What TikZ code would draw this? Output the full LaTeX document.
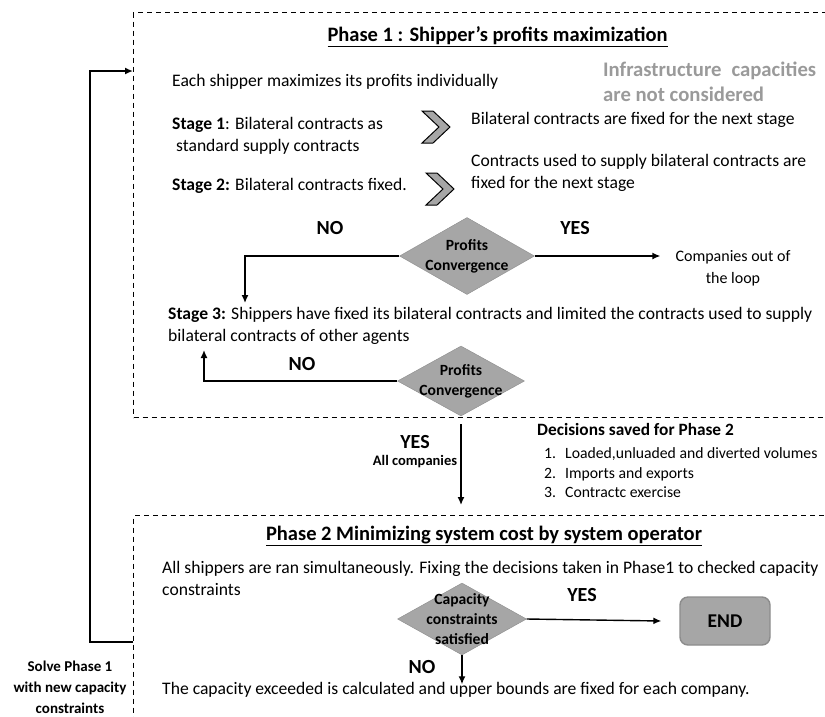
\documentclass[tikz,border=0pt]{standalone}
\usepackage{fontspec}
\setmainfont{Carlito}
\usepackage{tikz}
\usetikzlibrary{arrows.meta,positioning,calc,shapes.geometric}
\definecolor{ssGray}{HTML}{A6A6A6}
\definecolor{ssEdge}{HTML}{8C8C8C}
\definecolor{ssNote}{HTML}{9A9A9A}
\tikzset{
  phase frame/.style={draw,dash pattern=on 5pt off 4pt,line width=1pt,anchor=north west,
    minimum width=720pt,inner sep=0pt},
  body text/.style={anchor=west,align=left,inner sep=0pt,font=\fontsize{17.6}{22}\selectfont},
  phase title/.style={inner sep=0pt,font=\bfseries\fontsize{20.5}{24}\selectfont},
  flag/.style={inner sep=0pt,font=\bfseries\fontsize{20}{22}\selectfont},
  decision/.style={diamond,draw=ssEdge,fill=ssGray,inner sep=0pt},
  decision text/.style={align=center,inner sep=0pt,font=\bfseries\fontsize{15.6}{20}\selectfont},
  chevron/.style={draw,fill=ssGray,line width=1pt,line join=miter},
  flow arrow/.style={-{Latex[length=8pt,width=7pt]},line width=1.4pt},
  feedback/.style={-{Latex[length=8pt,width=7pt]},line width=2.4pt},
  pics/stage chevron/.style={code={
    \draw[chevron] (-15,-16) -- (-4,-16) -- (13,0) -- (-4,16) -- (-15,16) -- (2,0) -- cycle;}}
}

\begin{document}
\begin{tikzpicture}[x=1pt,y=-1pt]
\clip (0,0) rectangle (825,716);
% phase frames
\node[phase frame,minimum height=405pt] (phaseone) at (133,12) {};
\node[phase frame,minimum height=240pt] (phasetwo) at (133,515) {};
\node[phase title] (titleone) at (497.5,37) {\underline{Phase 1 : Shipper’s profits maximization}};
\node[phase title] (titletwo) at (484,536)
  {\underline{Phase 2 Minimizing system cost by system operator}};

% phase 1 content
\node[body text] (eachship) at (172,82) {Each shipper maximizes its profits individually};
\node[body text,text=ssNote,font=\bfseries\fontsize{20.7}{25}\selectfont] (infra) at (603,81.5)
  {Infrastructure\hspace{10pt}capacities\\are not considered};
\node[body text] (stageone) at (172,135.5)
  {\textbf{Stage 1}: Bilateral contracts as\\\hspace*{4pt}standard supply contracts};
\pic at (437,127) {stage chevron};
\node[body text] (fixednext) at (471,120) {Bilateral contracts are fixed for the next stage};
\node[body text] (stagetwo) at (172,186) {\textbf{Stage 2:} Bilateral contracts fixed.};
\pic at (441,189) {stage chevron};
\node[body text] (usedfixed) at (471,173)
  {Contracts used to supply bilateral contracts are\\fixed for the next stage};

\node[decision,minimum width=135pt,minimum height=77pt,
  label={[decision text]center:Profits\\Convergence}] (convone) at (467,256) {};
\node[flag] (noone) at (330,228) {NO};
\node[flag] (yesone) at (575,228) {YES};
\node[body text,anchor=center,align=center,font=\fontsize{16}{22}\selectfont] (outloop) at (733,268)
  {Companies out of\\the loop};
\node[body text] (stagethree) at (168,326)
  {\textbf{Stage 3:} Shippers have fixed its bilateral contracts and limited the contracts used to supply\\bilateral contracts of other agents};
\coordinate (stagethreein) at (245,303);

\node[decision,minimum width=127pt,minimum height=70pt,
  label={[decision text]center:Profits\\Convergence}] (convtwo) at (461,381) {};
\node[flag] (notwo) at (302,364) {NO};
\coordinate (stagethreeback) at (204,350);

\draw[flow arrow] (convone.east) -- ([xshift=-15pt]convone.east -| outloop.west);
\draw[flow arrow] (convone.west) -| (stagethreein);
\draw[flow arrow] (convtwo.west) -| (stagethreeback);

% between phases
\node[align=center,inner sep=0pt] (yesall) at (415,452)
  {{\bfseries\fontsize{20}{22}\selectfont YES}\\[5pt]{\bfseries\fontsize{14.5}{18}\selectfont All companies}};
\node[anchor=north west,align=left,inner sep=0pt,font=\fontsize{15.7}{19.5}\selectfont] (saved) at (537,423)
  {{\bfseries\fontsize{17.3}{20}\selectfont Decisions saved for Phase 2}\\[4pt]
   \hspace*{7pt}\makebox[21pt][l]{1.}Loaded,unluaded and diverted volumes\\
   \hspace*{7pt}\makebox[21pt][l]{2.}Imports and exports\\
   \hspace*{7pt}\makebox[21pt][l]{3.}Contractc exercise};
\draw[flow arrow,shorten <=8pt,shorten >=10pt] (convtwo.south) -- (convtwo.south |- phasetwo.north);

% phase 2 content
\node[body text] (allship) at (162,578)
  {All shippers are ran simultaneously. Fixing the decisions taken in Phase1 to checked capacity\\constraints};
\node[decision,minimum width=129pt,minimum height=72pt,
  label={[decision text]center:Capacity\\constraints\\satisfied}] (capok) at (462,619) {};
\node[flag] (yesthree) at (582,595) {YES};
\node[draw=ssEdge,fill=ssGray,line width=1.4pt,rounded corners=8pt,minimum width=90pt,minimum height=48pt,
  font=\bfseries\fontsize{19.5}{20}\selectfont] (endnode) at (725,621) {END};
\node[flag] (nothree) at (422,667) {NO};
\node[body text] (exceeded) at (162,690)
  {The capacity exceeded is calculated and upper bounds are fixed for each company.};
\draw[flow arrow] (capok.east) -- ([xshift=-18pt]endnode.west);
\draw[flow arrow] (capok.south) -- ([yshift=-2pt]capok.south |- exceeded.north);

% loop back to phase 1
\coordinate (looptop) at (133,71);
\coordinate (loopfoot) at (133,642);
\draw[feedback] (loopfoot) -- ++(-43,0) |- (looptop);
\node[align=center,inner sep=0pt,font=\bfseries\fontsize{15}{21}\selectfont] (solve) at (70,687)
  {Solve Phase 1\\with new capacity\\constraints};
\end{tikzpicture}
\end{document}
